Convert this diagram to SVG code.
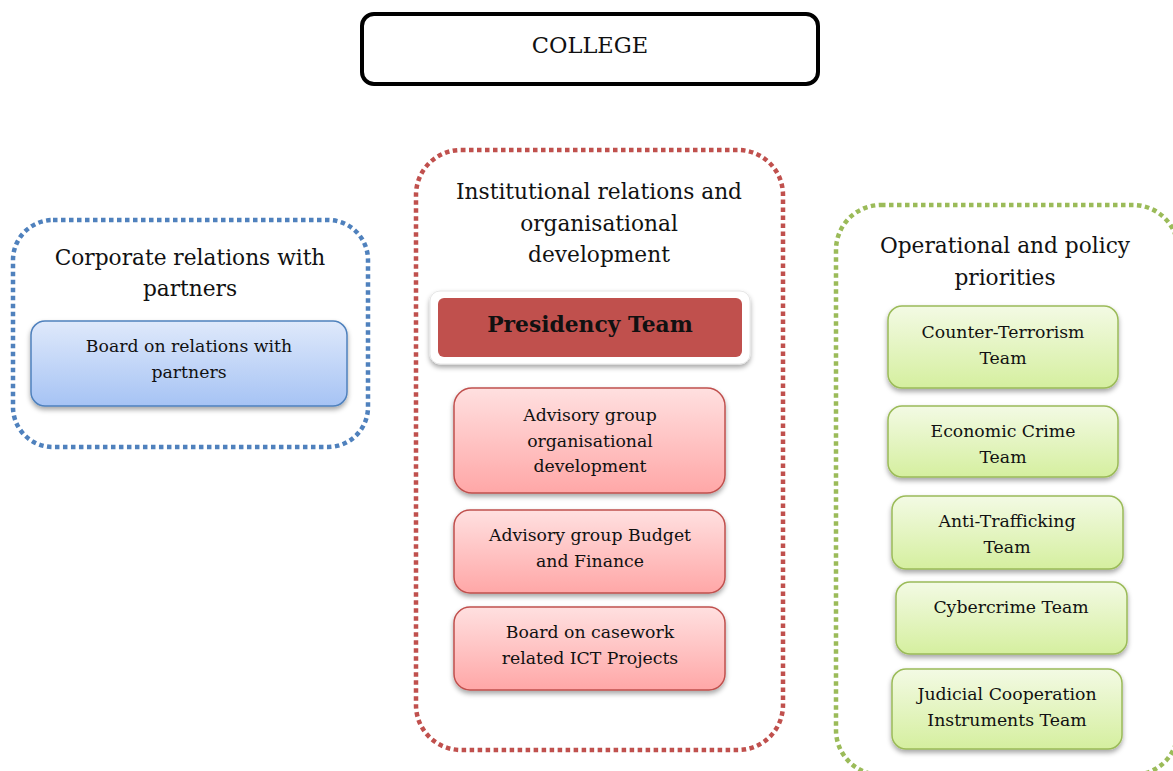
<svg xmlns="http://www.w3.org/2000/svg" width="1173" height="771" viewBox="0 0 1173 771">
<defs>
<linearGradient id="gBlue" x1="0" y1="0" x2="0" y2="1"><stop offset="0" stop-color="#dfe9fb"/><stop offset="1" stop-color="#a6c3f4"/></linearGradient>
<linearGradient id="gRed" x1="0" y1="0" x2="0" y2="1"><stop offset="0" stop-color="#ffe0e0"/><stop offset="1" stop-color="#ffa7a7"/></linearGradient>
<linearGradient id="gGreen" x1="0" y1="0" x2="0" y2="1"><stop offset="0" stop-color="#f3fae4"/><stop offset="1" stop-color="#d5ef9f"/></linearGradient>
<filter id="sh" x="-10%" y="-10%" width="120%" height="130%"><feDropShadow dx="0" dy="3" stdDeviation="2.5" flood-color="#000" flood-opacity="0.35"/></filter>
</defs>
<style>
text{font-family:"DejaVu Serif","Liberation Serif",serif;fill:#111;text-anchor:middle}
.title{font-size:21.7px}
.lbl{font-size:17.3px}
.grp{fill:none;stroke-width:4.5;stroke-dasharray:4.5 3.5}
.blue{fill:url(#gBlue);stroke:#4f81bd;stroke-width:1.5;filter:url(#sh)}
.red{fill:url(#gRed);stroke:#c0504d;stroke-width:1.5;filter:url(#sh)}
.green{fill:url(#gGreen);stroke:#9bbb59;stroke-width:1.5;filter:url(#sh)}
</style>
<g id="college">
<rect x="362" y="14" width="456" height="70" rx="12" fill="#fff" stroke="#000" stroke-width="4"/>
<text x="590" y="53" style="font-size:22.5px">COLLEGE</text>
</g>
<g id="corporate">
<rect class="grp" x="13" y="220" width="355" height="227" rx="40" stroke="#4f81bd"/>
<text class="title" x="190" y="265">Corporate relations with</text>
<text class="title" x="190" y="296">partners</text>
</g>
<g id="board-partners">
<rect class="blue" x="31" y="321" width="316" height="85" rx="14"/>
<text class="lbl" x="189" y="352">Board on relations with</text>
<text class="lbl" x="189" y="378">partners</text>
</g>
<g id="institutional">
<rect class="grp" x="416" y="150" width="367" height="600" rx="45" stroke="#c0504d"/>
<text class="title" x="599" y="199">Institutional relations and</text>
<text class="title" x="599" y="231">organisational</text>
<text class="title" x="599" y="262">development</text>
</g>
<g id="presidency">
<rect x="430" y="291" width="320" height="73" rx="10" fill="#fff" stroke="#e6e6e6" stroke-width="1" filter="url(#sh)"/>
<rect x="438" y="298" width="304" height="59" rx="6" fill="#c0504d"/>
<text x="590" y="332" style="font-size:21.8px;font-weight:bold">Presidency Team</text>
</g>
<g id="adv-org">
<rect class="red" x="454" y="388" width="271" height="105" rx="18"/>
<text class="lbl" x="590" y="421">Advisory group</text>
<text class="lbl" x="590" y="447">organisational</text>
<text class="lbl" x="590" y="472">development</text>
</g>
<g id="adv-budget">
<rect class="red" x="454" y="510" width="271" height="83" rx="16"/>
<text class="lbl" x="590" y="541">Advisory group Budget</text>
<text class="lbl" x="590" y="567">and Finance</text>
</g>
<g id="board-ict">
<rect class="red" x="454" y="607" width="271" height="83" rx="16"/>
<text class="lbl" x="590" y="638">Board on casework</text>
<text class="lbl" x="590" y="664">related ICT Projects</text>
</g>
<g id="operational">
<rect class="grp" x="836" y="205" width="342" height="570" rx="45" stroke="#9bbb59"/>
<text class="title" x="1005" y="253">Operational and policy</text>
<text class="title" x="1005" y="285">priorities</text>
</g>
<g id="ct">
<rect class="green" x="888" y="306" width="230" height="82" rx="14"/>
<text class="lbl" x="1003" y="338">Counter-Terrorism</text>
<text class="lbl" x="1003" y="364">Team</text>
</g>
<g id="ec">
<rect class="green" x="888" y="406" width="230" height="71" rx="14"/>
<text class="lbl" x="1003" y="437">Economic Crime</text>
<text class="lbl" x="1003" y="463">Team</text>
</g>
<g id="at">
<rect class="green" x="892" y="496" width="231" height="73" rx="14"/>
<text class="lbl" x="1007" y="527">Anti-Trafficking</text>
<text class="lbl" x="1007" y="553">Team</text>
</g>
<g id="cc">
<rect class="green" x="896" y="582" width="231" height="72" rx="14"/>
<text class="lbl" x="1011" y="613">Cybercrime Team</text>
</g>
<g id="jc">
<rect class="green" x="892" y="669" width="230" height="80" rx="14"/>
<text class="lbl" x="1007" y="700">Judicial Cooperation</text>
<text class="lbl" x="1007" y="726">Instruments Team</text>
</g>
<g id="connectors"></g>
</svg>
